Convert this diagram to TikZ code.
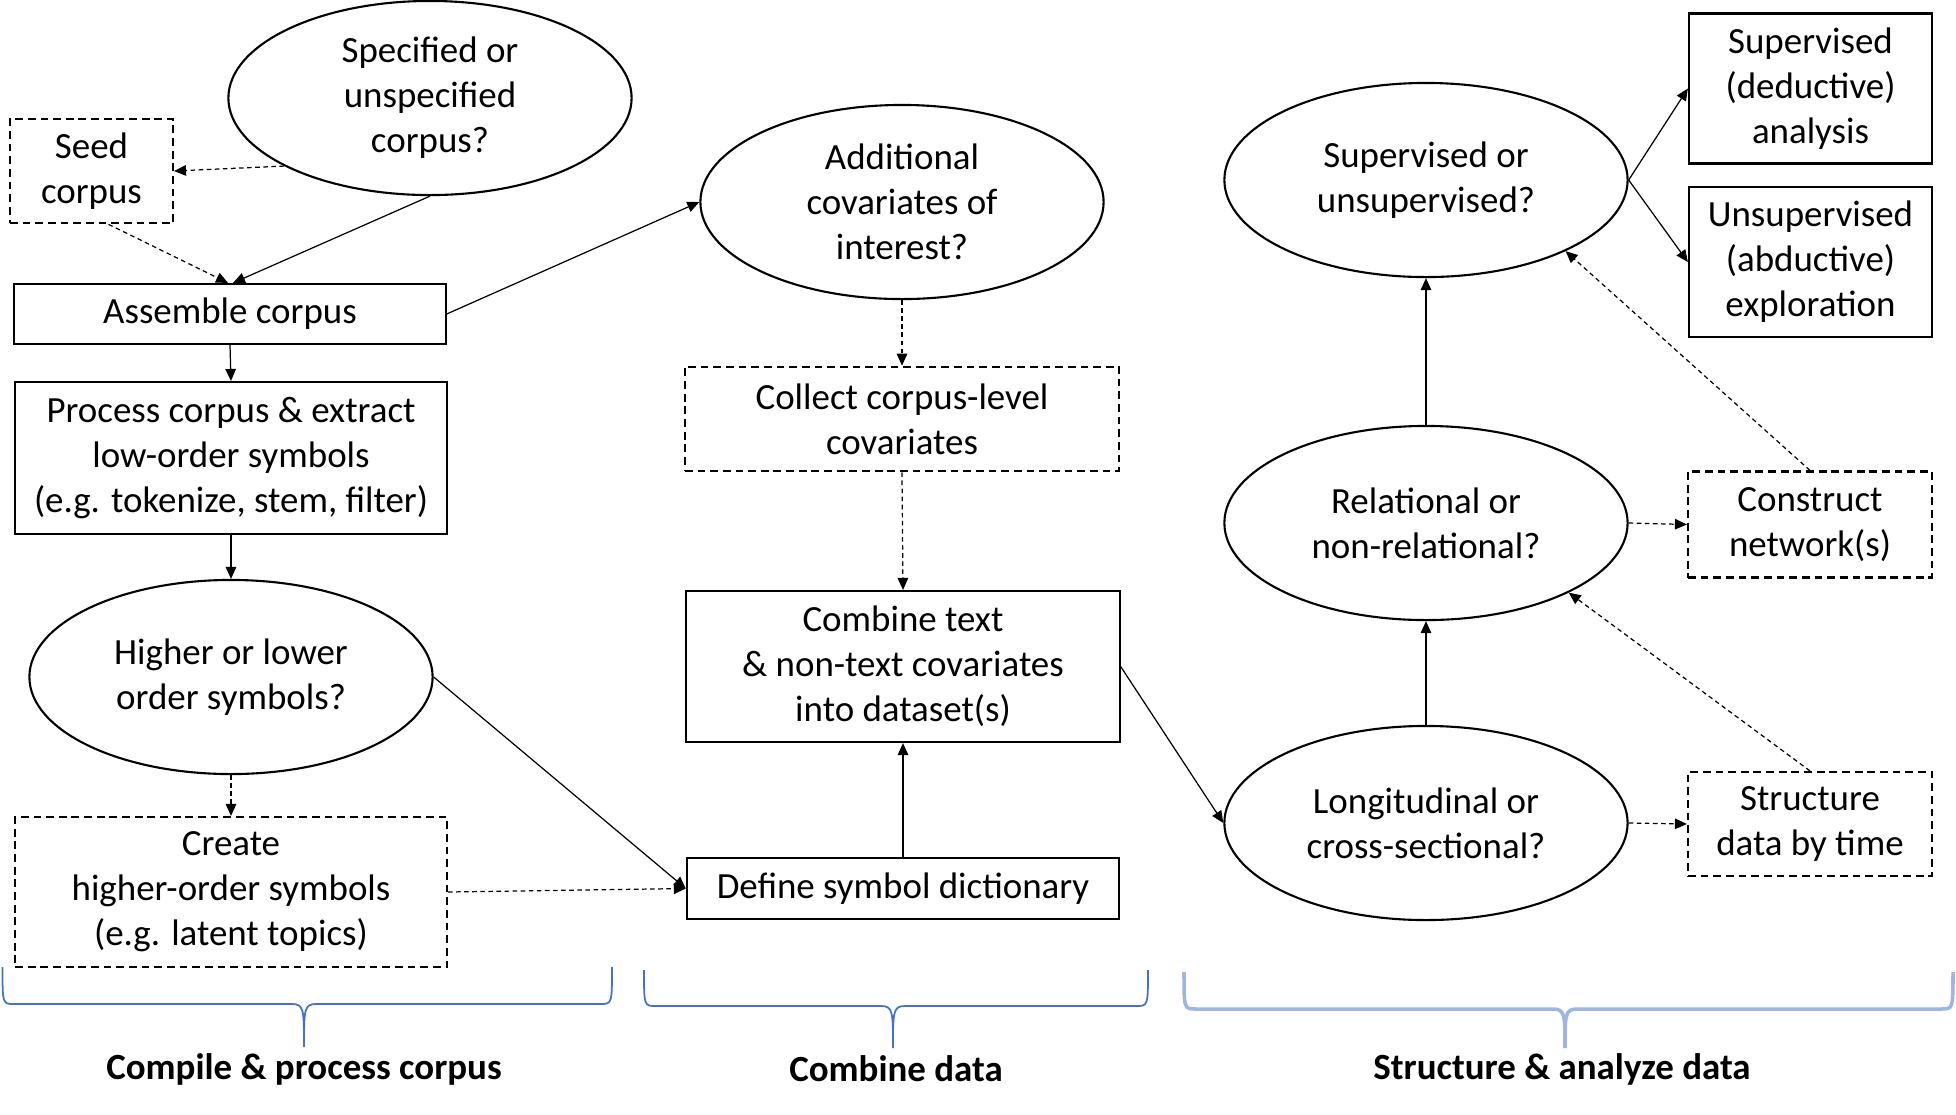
\documentclass[tikz,border=0pt]{standalone}
\usepackage{fontspec}
\setmainfont{Carlito}
\usetikzlibrary{shapes.geometric,arrows.meta,calc}
\definecolor{braceblue}{HTML}{4472C4}
\definecolor{bracelight}{HTML}{9DB5E0}
\begin{document}
\begin{tikzpicture}[x=0.01cm,y=-0.01cm,
  every node/.style={font=\fontsize{10.5}{12.8}\selectfont, align=center, inner sep=0pt},
  boxs/.style={draw, line width=0.6pt, rectangle},
  dbox/.style={boxs, dash pattern=on 2.2pt off 1.4pt},
  ell/.style={draw, ellipse, line width=0.6pt, minimum width=4.03cm, minimum height=1.94cm},
  conn/.style={line width=0.35pt, -{Triangle[length=3.4pt,width=3pt]}},
  dconn/.style={conn, dash pattern=on 1.3pt off 1pt},
  brc/.style={line width=0.5pt, draw=braceblue},
  lab/.style={font=\bfseries\fontsize{10.5}{12.8}\selectfont}
]
\useasboundingbox (0,0) rectangle (1956,1114);

% column 1
\node[ell] (sp) at (430,98) {Specified or\\unspecified\\corpus?};
\node[dbox, minimum width=1.63cm, minimum height=1.045cm] (seed) at (91.5,171) {Seed\\corpus};
\node[boxs, minimum width=4.31cm, minimum height=0.60cm] (asm) at (230,314) {Assemble corpus};
\node[boxs, minimum width=4.315cm, minimum height=1.52cm] (proc) at (231,458) {Process corpus \& extract\\low-order symbols\\(e.g. tokenize, stem, filter)};
\node[ell] (hi) at (231,677) {Higher or lower\\order symbols?};
\node[dbox, minimum width=4.315cm, minimum height=1.50cm] (create) at (231,892) {Create\\higher-order symbols\\(e.g. latent topics)};

% column 2
\node[ell] (add) at (902,202) {Additional\\covariates of\\interest?};
\node[dbox, minimum width=4.34cm, minimum height=1.045cm] (collect) at (902,419) {Collect corpus-level\\covariates};
\node[boxs, minimum width=4.33cm, minimum height=1.51cm] (combine) at (903,666.5) {Combine text\\\& non-text covariates\\into dataset(s)};
\node[boxs, minimum width=4.32cm, minimum height=0.61cm] (def) at (903,888.5) {Define symbol dictionary};

% column 3
\node[ell] (sup) at (1426,180) {Supervised or\\unsupervised?};
\node[ell] (rel) at (1426,523) {Relational or\\non-relational?};
\node[ell] (lon) at (1426,823) {Longitudinal or\\cross-sectional?};
\node[boxs, minimum width=2.43cm, minimum height=1.50cm] (supb) at (1810.5,88.5) {Supervised\\(deductive)\\analysis};
\node[boxs, minimum width=2.43cm, minimum height=1.50cm] (unsb) at (1810.5,262) {Unsupervised\\(abductive)\\exploration};
\node[dbox, minimum width=2.44cm, minimum height=1.06cm] (netw) at (1810,524.5) {Construct\\network(s)};
\node[dbox, minimum width=2.44cm, minimum height=1.04cm] (str) at (1810,824) {Structure\\data by time};

% connectors
\draw[dconn] (sp.205) -- (seed.east);
\draw[conn] (sp.south) -- ([xshift=0.03cm]asm.north);
\draw[dconn] ([xshift=0.17cm]seed.south) -- ([xshift=-0.02cm]asm.north);
\draw[conn] (asm.east) -- (add.west);
\draw[conn] (asm.south) -- (proc.north);
\draw[conn] (proc.south) -- (hi.north);
\draw[dconn] (hi.south) -- (create.north);
\draw[conn] (hi.east) -- (def.west);
\draw[dconn] (create.east) -- (def.west);
\draw[dconn] (add.south) -- (collect.north);
\draw[dconn] (collect.south) -- (combine.north);
\draw[conn] (def.north) -- (combine.south);
\draw[conn] (combine.east) -- (lon.west);
\draw[dconn] (lon.east) -- (str.west);
\draw[conn] (lon.north) -- (rel.south);
\draw[dconn] (str.north) -- (rel.-26);
\draw[dconn] (rel.east) -- (netw.west);
\draw[conn] (rel.north) -- (sup.south);
\draw[dconn] (netw.north) -- (sup.-27);
\draw[conn] (sup.east) -- (supb.west);
\draw[conn] (sup.east) -- (unsb.west);

% braces
\draw[brc] (2.5,967) .. controls (2.5,1004) .. (14,1004) -- (292,1004)
  .. controls (304,1004) and (304,1010) .. (304,1047)
  .. controls (304,1010) and (304,1004) .. (316,1004) -- (600,1004)
  .. controls (612,1004) .. (612,967);
\draw[brc] (644,970) .. controls (644,1006) .. (656,1006) -- (881,1006)
  .. controls (893,1006) and (893,1012) .. (893,1048)
  .. controls (893,1012) and (893,1006) .. (905,1006) -- (1136,1006)
  .. controls (1148,1006) .. (1148,970);
\draw[line width=1pt, draw=bracelight] (1184,972) .. controls (1184,1009) .. (1196,1009) -- (1553,1009)
  .. controls (1565,1009) and (1565,1015) .. (1565,1048)
  .. controls (1565,1015) and (1565,1009) .. (1577,1009) -- (1941,1009)
  .. controls (1953,1009) .. (1953,972);

\node[lab] (l1) at (304,1069) {Compile \& process corpus};
\node[lab] (l2) at (896,1069) {Combine data};
\node[lab] (l3) at (1562,1069) {Structure \& analyze data};
\end{tikzpicture}
\end{document}
